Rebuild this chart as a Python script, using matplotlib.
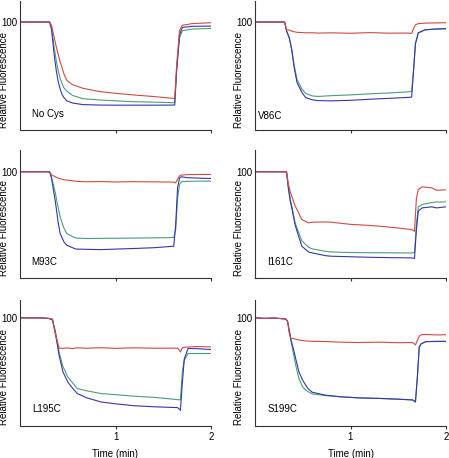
import matplotlib
matplotlib.use("Agg")
import matplotlib.pyplot as plt

plt.rcParams['font.family'] = ['Liberation Sans', 'DejaVu Sans']

# ---------------- data ----------------
labels = ["No Cys", "V86C", "M93C", "I161C", "L195C", "S199C"]

t_nocys = [0, 0.1, 0.2, 0.31, 0.33, 0.36, 0.38, 0.4, 0.42, 0.44, 0.46, 0.49, 0.55, 0.66, 0.84, 1.0, 1.2, 1.4, 1.6, 1.62, 1.64, 1.67, 1.7, 1.8, 2.0]
red_nocys = [100, 100, 100, 100, 97, 85, 77, 70, 63, 58, 52, 46, 42, 38.6, 35.5, 34, 32.4, 31, 29.3, 29, 60, 92, 97, 98.5, 99.4]
green_nocys = [100, 100, 100, 100, 95, 75, 64, 55, 48, 43, 39, 36, 32, 29, 27.8, 27, 26.2, 25.8, 25.3, 25.3, 55, 85, 92, 93.5, 94.1]
blue_nocys = [100, 100, 100, 100, 93, 68, 55, 45, 38, 33, 30, 27, 25, 23.5, 23.1, 23, 23, 23, 23.1, 23.1, 55, 88, 95, 96, 96.3]

t_v86c = [0, 0.1, 0.2, 0.31, 0.33, 0.36, 0.385, 0.41, 0.44, 0.49, 0.53, 0.6, 0.66, 0.8, 1.0, 1.2, 1.4, 1.6, 1.64, 1.66, 1.68, 1.71, 1.78, 1.9, 2.0]
red_v86c = [100, 100, 100, 100, 93, 92.5, 91.6, 91, 90.5, 90.3, 90, 90.1, 89.8, 90, 89.6, 90.2, 89.7, 89.8, 89.5, 94, 97.5, 98.5, 99, 99.2, 99.4]
green_v86c = [100, 100, 100, 100, 92, 85, 74.6, 60, 46.6, 38, 34, 31.5, 31.1, 31.8, 32.5, 33.5, 34.3, 35.3, 35.7, 55, 80, 90, 92.8, 93.5, 93.8]
blue_v86c = [100, 100, 100, 100, 92, 85, 74, 58, 44, 35, 30, 28, 27.2, 27, 27.5, 28.5, 29.3, 30.2, 30.4, 55, 80, 90, 92.8, 93.6, 93.8]

t_m93c = [0, 0.1, 0.2, 0.31, 0.33, 0.37, 0.4, 0.42, 0.46, 0.49, 0.55, 0.59, 0.7, 0.84, 1.0, 1.2, 1.4, 1.61, 1.63, 1.65, 1.67, 1.69, 1.75, 1.9, 2.0]
red_m93c = [100, 100, 100, 100, 97, 95.3, 94, 93.5, 92.5, 92.2, 91.5, 91, 90.6, 90.8, 90.4, 90.7, 90.5, 90.3, 89.6, 93, 96, 96.9, 97.3, 97.5, 97.5]
green_m93c = [100, 100, 100, 100, 95, 80, 66, 57.5, 47, 41.9, 39, 37.5, 37.2, 37.3, 37.4, 37.6, 37.8, 38.1, 45, 75, 88, 90.6, 91, 91.2, 91.2]
blue_m93c = [100, 100, 100, 100, 94, 72, 52, 42, 34, 30.8, 28.5, 27.2, 27, 26.7, 27.2, 27.8, 28.5, 29.9, 50, 85, 94, 95.3, 94.5, 93.9, 93.7]

t_i161c = [0, 0.1, 0.2, 0.33, 0.35, 0.37, 0.385, 0.42, 0.44, 0.49, 0.56, 0.6, 0.74, 0.8, 1.0, 1.2, 1.4, 1.64, 1.67, 1.69, 1.71, 1.75, 1.85, 1.9, 2.0]
red_i161c = [100, 100, 100, 100, 88, 81, 77, 68, 64.4, 55, 51.9, 52.5, 52.8, 52.5, 50.5, 49.5, 48, 45.6, 44, 75, 83.3, 85.8, 84.9, 82.6, 83]
green_i161c = [100, 100, 100, 100, 85, 74, 68, 52, 47, 35, 29, 27.4, 25.1, 24.5, 24, 23.8, 23.7, 23.6, 24, 50, 67, 69.2, 71, 71.5, 71.7]
blue_i161c = [100, 100, 100, 100, 84, 72, 66, 50, 44, 30, 24.5, 23.6, 21, 20.5, 20, 19.5, 19.2, 18.9, 18.5, 45, 63, 66, 67, 66, 67]

t_l195c = [0, 0.1, 0.2, 0.3, 0.34, 0.37, 0.41, 0.45, 0.5, 0.55, 0.6, 0.7, 0.85, 1.0, 1.2, 1.4, 1.65, 1.67, 1.68, 1.7, 1.72, 1.76, 1.85, 2.0]
red_l195c = [100, 100, 100, 99.5, 99, 85, 72, 71.8, 72.2, 71.6, 72.3, 71.9, 72.4, 71.8, 72.3, 71.9, 72, 70, 68.5, 72.2, 72.8, 73, 73.5, 73.1]
green_l195c = [100, 100, 100, 99.5, 98, 88, 68, 55, 45.4, 40, 34.6, 32.5, 30, 29, 27.5, 26.5, 24.4, 24.3, 24.2, 50, 60.8, 67, 67, 67]
blue_l195c = [100, 100, 100, 99.5, 98, 86, 65, 50, 40.7, 35, 30, 26, 22.2, 20.5, 18.7, 17.8, 17, 15.5, 14.5, 40, 62, 71.7, 71.5, 70.7]

t_s199c = [0, 0.1, 0.2, 0.32, 0.34, 0.36, 0.375, 0.4, 0.43, 0.46, 0.5, 0.55, 0.6, 0.74, 0.9, 1.09, 1.3, 1.5, 1.65, 1.68, 1.7, 1.72, 1.74, 1.79, 1.9, 2.0]
red_s199c = [100, 99.5, 99.8, 99, 97, 85, 81.2, 80.8, 80.3, 79.5, 79, 78.5, 78.3, 78.1, 77.5, 77.2, 77.5, 77, 77.2, 75, 79, 83, 84.4, 84.6, 84.2, 84.4]
green_s199c = [100, 99.5, 99.8, 99, 97, 88, 79.7, 68, 54.7, 44, 35.9, 32, 29.7, 28.1, 27, 26, 25.5, 24.8, 24.1, 21.9, 45, 73.4, 76, 78.1, 78.1, 78.1]
blue_s199c = [100, 99.5, 99.8, 99, 97, 88, 80, 72, 60.9, 50, 42.2, 35, 31.2, 28.5, 27, 26, 25.5, 24.8, 24.1, 22.5, 45, 73, 76, 78, 78.3, 78.3]

times = [t_nocys, t_v86c, t_m93c, t_i161c, t_l195c, t_s199c]
reds = [red_nocys, red_v86c, red_m93c, red_i161c, red_l195c, red_s199c]
greens = [green_nocys, green_v86c, green_m93c, green_i161c, green_l195c, green_s199c]
blues = [blue_nocys, blue_v86c, blue_m93c, blue_i161c, blue_l195c, blue_s199c]

x_ticks = [1, 2]
x_ticklabels = ["1", "2"]
y_ticks = [100]
y_ticklabels = ["100"]

# ---------------- layout ----------------
W, H = 449, 458
fig = plt.figure(figsize=(W / 100, H / 100), dpi=100)

col_left = [20, 255]
col_right = [211, 446]
row_top = [1, 150, 300]
row_bottom = [130, 278, 426]
row_ymax = [119.5, 120.5, 116.5]
label_pos = [(0.063, 0.083), (0.017, 0.072), (0.061, 0.087),
             (0.061, 0.086), (0.066, 0.097), (0.065, 0.093)]

RED = "#cf4a45"
GREEN = "#4c9e74"
BLUE = "#3636a8"
FS = 7

for i in range(6):
    r, c = divmod(i, 2)
    x0 = col_left[c] / W
    w = (col_right[c] - col_left[c]) / W
    y0 = 1 - row_bottom[r] / H
    h = (row_bottom[r] - row_top[r]) / H
    ax = fig.add_axes([x0, y0, w, h])
    ax.plot(times[i], greens[i], color=GREEN, lw=0.8)
    ax.plot(times[i], blues[i], color=BLUE, lw=0.8)
    ax.plot(times[i], reds[i], color=RED, lw=0.8)
    ax.set_xlim(0, 2)
    ax.set_ylim(0, row_ymax[r])
    for s in ["top", "right"]:
        ax.spines[s].set_visible(False)
    for s in ["left", "bottom"]:
        ax.spines[s].set_linewidth(0.8)
        ax.spines[s].set_color("#333333")
    ax.set_xticks(x_ticks)
    ax.set_yticks(y_ticks)
    ax.set_yticklabels(y_ticklabels, fontsize=FS)
    ax.tick_params(axis="y", length=0, pad=2)
    ax.tick_params(axis="x", length=2.5, width=0.8, pad=2, color="#333333")
    if r == 2:
        ax.set_xticklabels(x_ticklabels, fontsize=FS)
        ax.set_xlabel("Time (min)", fontsize=FS, labelpad=5)
    else:
        ax.set_xticklabels([])
    ax.set_ylabel("Relative Fluorescence", fontsize=FS)
    ax.yaxis.set_label_coords(-0.058, 0.39)
    ax.text(label_pos[i][0], label_pos[i][1], labels[i], transform=ax.transAxes,
            fontsize=FS, ha="left", va="bottom")

fig.savefig("out.png", dpi=100)
